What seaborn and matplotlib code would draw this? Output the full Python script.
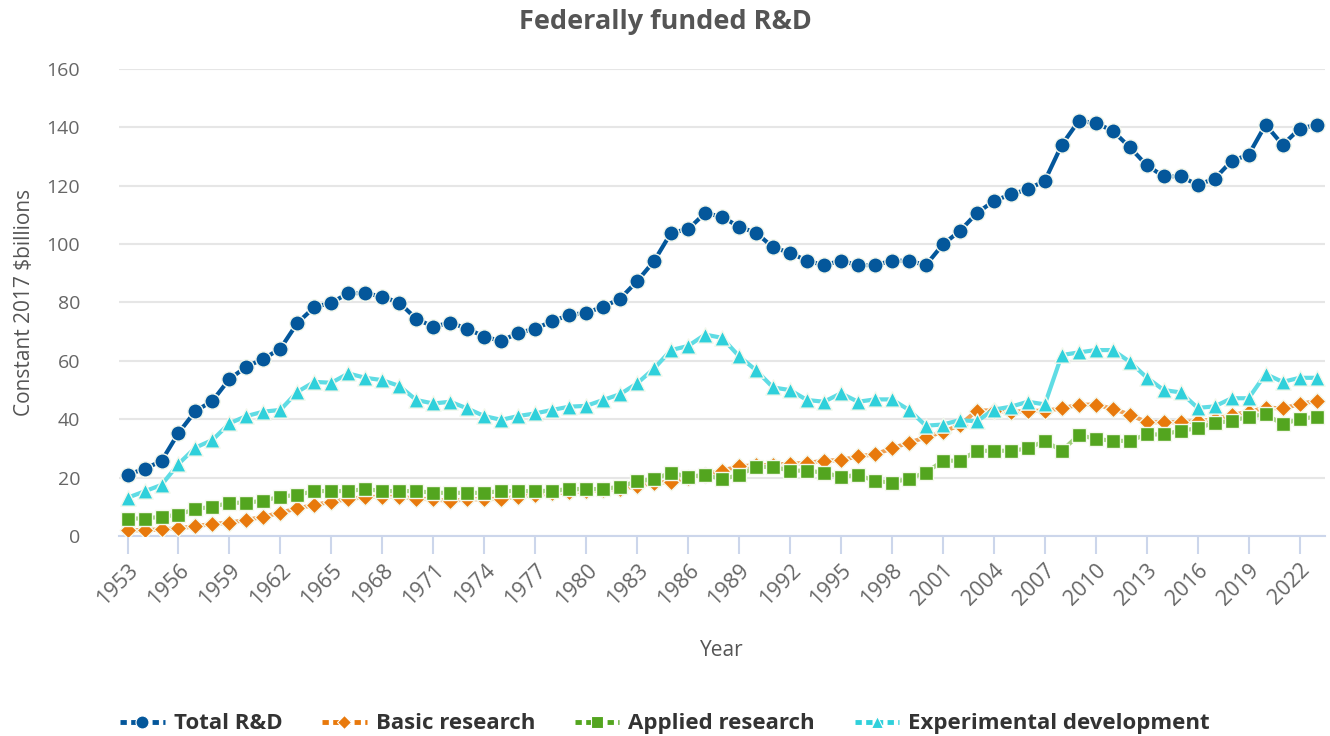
import pandas as pd
import seaborn as sns
import matplotlib.pyplot as plt

years = list(range(1953, 2024))

total_rd = [21.0, 23.0, 25.7, 35.3, 42.8, 46.3, 53.8, 58.0, 60.7, 64.2,
            73.0, 78.4, 79.9, 83.2, 83.2, 82.0, 79.9, 74.4, 71.7, 73.1,
            71.0, 68.3, 66.8, 69.6, 71.0, 73.6, 75.7, 76.5, 78.5, 81.3,
            87.3, 94.2, 103.9, 105.1, 110.6, 109.4, 105.9, 103.9, 98.9, 97.0,
            94.3, 92.8, 94.3, 92.8, 92.8, 94.3, 94.3, 92.8, 99.9, 104.5,
            110.6, 114.8, 117.0, 118.8, 121.7, 134.0, 142.2, 141.5, 138.8, 133.2,
            127.0, 123.2, 123.2, 120.3, 122.4, 128.5, 130.6, 140.9, 134.0, 139.5,
            140.9]

basic_research = [2.0, 2.0, 2.3, 2.6, 3.4, 4.1, 4.6, 5.5, 6.6, 8.0,
                  9.5, 10.6, 11.8, 12.6, 13.4, 13.4, 13.4, 12.8, 12.6, 12.0,
                  12.6, 12.6, 12.8, 13.4, 14.1, 14.6, 15.0, 15.4, 15.8, 16.2,
                  17.0, 18.2, 18.6, 20.0, 21.0, 22.4, 23.9, 24.2, 24.4, 24.8,
                  25.0, 25.8, 26.0, 27.3, 28.0, 30.0, 32.0, 33.8, 35.7, 38.0,
                  43.0, 43.0, 42.5, 42.9, 42.9, 43.7, 45.0, 45.0, 43.6, 41.6,
                  39.0, 39.0, 39.0, 39.3, 40.0, 41.5, 42.5, 44.0, 43.7, 45.2,
                  46.3]

applied_research = [6.0, 6.0, 6.6, 7.3, 9.3, 10.0, 11.4, 11.4, 12.1, 13.5,
                    14.1, 15.4, 15.4, 15.4, 16.1, 15.4, 15.4, 15.4, 14.8, 14.8,
                    14.8, 14.8, 15.4, 15.4, 15.4, 15.5, 16.1, 16.1, 16.1, 16.9,
                    18.8, 19.5, 21.7, 20.3, 20.9, 19.5, 20.9, 23.7, 23.7, 22.4,
                    22.4, 21.7, 20.3, 20.9, 18.9, 18.3, 19.7, 21.7, 25.8, 25.8,
                    29.2, 29.2, 29.2, 30.0, 32.6, 29.2, 34.6, 33.3, 32.6, 32.6,
                    34.8, 34.8, 36.1, 36.9, 38.8, 39.4, 40.9, 41.7, 38.3, 40.1,
                    40.9]

experimental_dev = [13.1, 15.3, 17.5, 24.7, 30.3, 32.9, 38.6, 41.1, 42.6, 43.2,
                    49.4, 52.8, 52.5, 55.7, 54.2, 53.4, 51.4, 46.6, 45.4, 46.0,
                    43.7, 41.1, 39.8, 41.1, 42.0, 43.2, 44.3, 44.6, 46.6, 48.6,
                    52.3, 57.4, 63.7, 65.1, 69.0, 67.9, 61.6, 56.8, 50.9, 50.0,
                    46.6, 46.0, 48.9, 46.0, 46.8, 46.8, 43.2, 37.8, 38.2, 39.7,
                    39.3, 43.3, 44.3, 46.0, 45.1, 62.0, 62.9, 63.7, 63.7, 59.7,
                    54.3, 50.0, 49.2, 43.9, 44.4, 47.2, 47.2, 55.5, 52.8, 54.2,
                    54.2]

series_names = ["Total R&D", "Basic research", "Applied research", "Experimental development"]
series_values = [total_rd, basic_research, applied_research, experimental_dev]
marker_colors = ["#04579b", "#e8790c", "#53a51f", "#2fd0db"]
line_colors = ["#04579b", "#f0a055", "#9fd07a", "#5fdce4"]
markers = ["o", "D", "s", "^"]
marker_sizes = [11, 8.5, 10.5, 11]

sns.set_theme(style="white")
plt.rcParams["font.family"] = ["Open Sans", "DejaVu Sans"]

fig = plt.figure(figsize=(13.3, 7.36), dpi=100)
ax = fig.add_axes([0.0895, 0.2717, 0.9068, 0.6346])

df = pd.DataFrame({"Year": years})
for name, vals in zip(series_names, series_values):
    df[name] = vals

for i, name in enumerate(series_names):
    sns.lineplot(x="Year", y=name, data=df, ax=ax, color=line_colors[i],
                 linewidth=3, zorder=2 + i, legend=False)
    sns.scatterplot(x="Year", y=name, data=df, ax=ax, color=marker_colors[i],
                    marker=markers[i], s=marker_sizes[i] ** 2, legend=False,
                    edgecolor="#f4f8ec", linewidth=1, zorder=2.5 + i)

# legend handles: dash - marker - dash
handles = []
for i, name in enumerate(series_names):
    h, = ax.plot([], [], color=marker_colors[i], linewidth=3.5, linestyle=(0, (1.3, 0.9)),
                 marker=markers[i], markersize=marker_sizes[i] * 0.85,
                 markeredgecolor="white", markeredgewidth=0.8, label=name)
    handles.append(h)

ax.set_xlim(1952.5, 2023.5)
ax.set_ylim(0, 160)
ax.set_yticks(range(0, 161, 20))
ax.set_xticks(years[::3])
ax.set_xticklabels([str(y) for y in years[::3]], rotation=45, ha="right",
                   rotation_mode="anchor")
ax.tick_params(axis="x", colors="#ccd6eb", length=13, width=1.5, labelsize=15.5,
               labelcolor="#666666", pad=4, direction="out", bottom=True)
ax.tick_params(axis="y", length=0, labelsize=14, labelcolor="#666666", pad=28)

ax.grid(axis="y", color="#e6e6e6", linewidth=1.5)
ax.grid(axis="x", visible=False)
for side in ["top", "right", "left"]:
    ax.spines[side].set_visible(False)
ax.spines["bottom"].set_color("#ccd6eb")
ax.spines["bottom"].set_linewidth(1.5)

ax.set_xlabel("Year", fontsize=15, color="#555555", labelpad=22)
ax.set_ylabel("Constant 2017 $billions", fontsize=15, color="#555555", labelpad=8)
fig.text(0.5, 0.97, "Federally funded R&D", fontsize=19.5, fontweight="bold",
         color="#555555", ha="center", va="center")

leg = fig.legend(handles=handles, loc="lower center", ncol=4, frameon=False,
                 bbox_to_anchor=(0.5, -0.025), handlelength=2.0, columnspacing=1.8,
                 handletextpad=0.4, prop={"size": 16, "weight": "bold"})
for t in leg.get_texts():
    t.set_color("#333333")

plt.savefig("out.png", dpi=100)
